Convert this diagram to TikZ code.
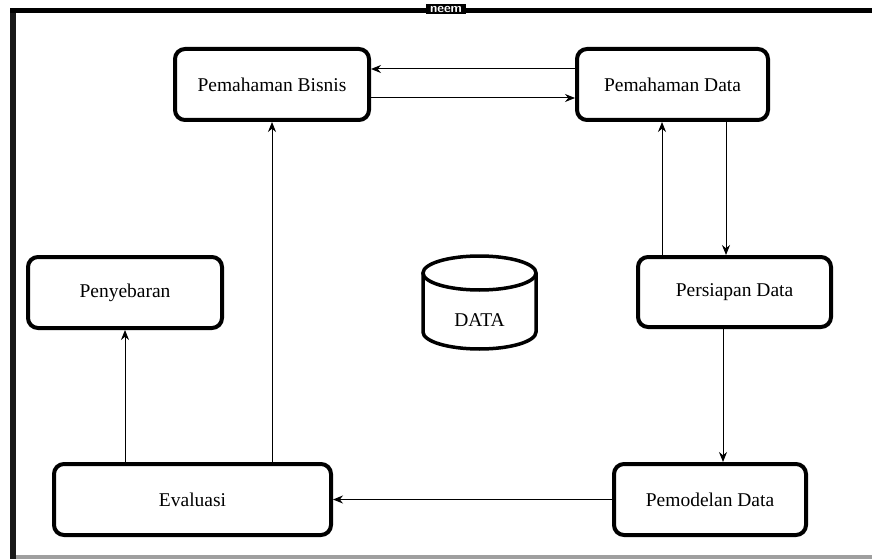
\documentclass[tikz,border=0pt]{standalone}
\usepackage{fontspec}
\setmainfont{Liberation Serif}
\usetikzlibrary{arrows.meta}
\begin{document}
\begin{tikzpicture}[x=1pt,y=-1pt,
  box/.style={draw=black, line width=4pt, rounded corners=10pt, fill=white,
    minimum height=71pt, inner sep=0pt, font=\fontsize{19.5}{22}\selectfont},
  arr/.style={line width=1pt, -{Stealth[length=10pt,width=8pt]}},
  cyl/.style={line width=3.5pt}]
\useasboundingbox (0,0) rectangle (872,559);
\fill[white] (0,0) rectangle (872,559);
% frame
\fill[black!90] (10,8) rectangle (16,559);
\fill[black] (10,8) rectangle (872,13);
\fill[gray!75] (16,555) rectangle (872,559);
\fill[black] (426,4) rectangle (466,14);
\node[text=white, font=\sffamily\bfseries\fontsize{13}{13}\selectfont, inner sep=0pt] (lbl) at (446,9) {neem};
% boxes
\node[box, minimum width=194pt] (pb) at (272,84.5) {Pemahaman Bisnis};
\node[box, minimum width=191pt] (pd) at (672.5,84.5) {Pemahaman Data};
\node[box, minimum width=193pt, minimum height=70pt] (ps) at (734.5,292) {Persiapan Data};
\node[box, minimum width=194pt] (py) at (125,292.5) {Penyebaran};
\node[box, minimum width=277pt] (ev) at (192.5,499.5) {Evaluasi};
\node[box, minimum width=192pt] (pm) at (710,499.5) {Pemodelan Data};
% cylinder
\draw[cyl, fill=white] (423,273) -- (423,332) arc[start angle=180, end angle=360, x radius=56.5pt, y radius=17pt] -- (536,273);
\draw[cyl] (479.5,273) ellipse [x radius=56.5pt, y radius=17pt];
\node[font=\fontsize{19.5}{22}\selectfont] (data) at (479.5,320) {DATA};
% connectors
\coordinate (ya) at (0,69);
\coordinate (yb) at (0,98);
\coordinate (xa) at (662,0);
\coordinate (xb) at (726,0);
\coordinate (xc) at (723,0);
\draw[arr] (pd.west |- ya) -- (pb.east |- ya);
\draw[arr] (pb.east |- yb) -- (pd.west |- yb);
\draw[arr] (ps.north -| xa) -- (pd.south -| xa);
\draw[arr] (pd.south -| xb) -- (ps.north -| xb);
\draw[arr] (ps.south -| xc) -- (pm.north -| xc);
\draw[arr] (pm.west) -- (ev.east);
\draw[arr] (ev.north -| py) -- (py.south);
\draw[arr] (ev.north -| pb) -- (pb.south);
\end{tikzpicture}
\end{document}
